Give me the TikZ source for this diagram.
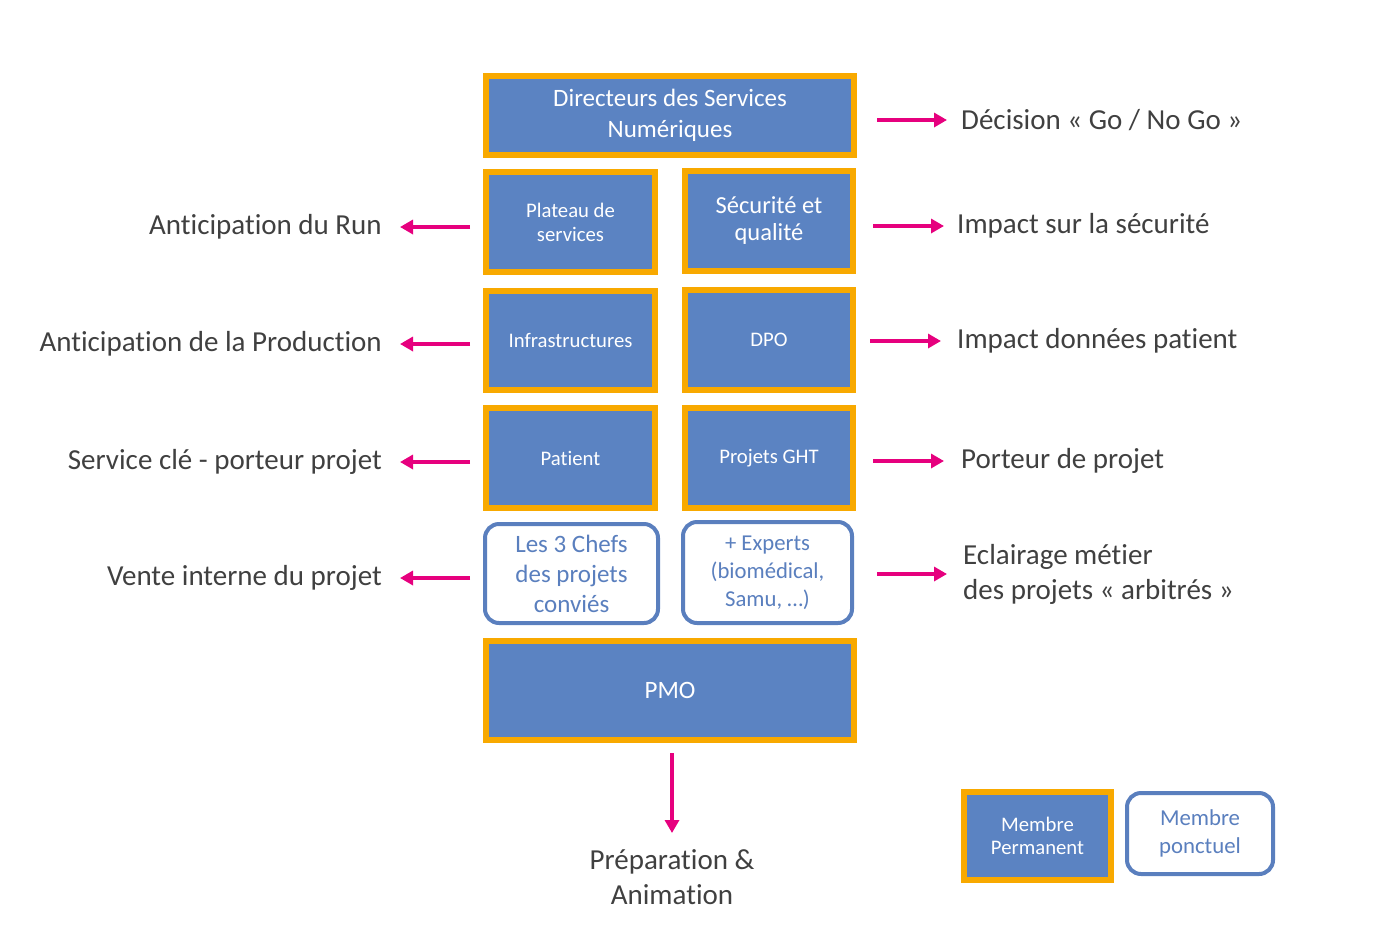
\documentclass[tikz,border=0pt]{standalone}
\usepackage{fontspec}
\setmainfont[Ligatures=NoCommon]{Carlito}
\usetikzlibrary{arrows.meta}
\definecolor{boxblue}{HTML}{5B83C2}
\definecolor{orng}{HTML}{F8A900}
\definecolor{pinkarr}{HTML}{E6007E}
\definecolor{txtgray}{HTML}{404040}
\definecolor{rblue}{HTML}{5A7FBE}
\begin{document}
\begin{tikzpicture}[x=1pt,y=-1pt,
  perm/.style={draw=orng, line width=6pt, fill=boxblue, text=white, align=center, inner sep=0pt},
  ponc/.style={draw=rblue, line width=4pt, fill=white, rounded corners=14pt, text=rblue, align=center, inner sep=0pt},
  lbl/.style={text=txtgray, inner sep=0pt, align=left, font=\fontsize{29}{35}\selectfont},
  lblr/.style={lbl, anchor=east},
  lbll/.style={lbl, anchor=west},
  arr/.style={draw=pinkarr, line width=3.5pt, -{Triangle[length=13pt,width=14pt]}},
  fbig/.style={font=\fontsize{25}{31}\selectfont},
  fmid/.style={font=\fontsize{24.5}{27}\selectfont},
  fsmall/.style={font=\fontsize{20.7}{24}\selectfont}]
\useasboundingbox (0,0) rectangle (1388,940);
% permanent boxes
\node[perm, fbig, minimum width=368, minimum height=79] (dsn) at (670,115.5) {Directeurs des Services\\Numériques};
\node[perm, fsmall, minimum width=169, minimum height=100] (plat) at (570.5,222) {Plateau de\\services};
\node[perm, fmid, minimum width=168, minimum height=100] (secu) at (769,221) {Sécurité et\\qualité};
\node[perm, fsmall, minimum width=169, minimum height=99] (infra) at (570.5,340.5) {Infrastructures};
\node[perm, fsmall, minimum width=168, minimum height=100] (dpo) at (769,340) {DPO};
\node[perm, fsmall, minimum width=169, minimum height=100] (pat) at (570.5,458) {Patient};
\node[perm, fsmall, minimum width=168, minimum height=100] (ght) at (769,458) {Projets GHT};
\node[ponc, font=\fontsize{25}{30}\selectfont, minimum width=173, minimum height=99] (chefs) at (571.5,573.5) {Les 3 Chefs\\des projets\\conviés};
\node[ponc, font=\fontsize{22.7}{28}\selectfont, minimum width=169, minimum height=101] (exp) at (767.5,572.5) {+ Experts\\(biomédical,\\Samu, …)};
\node[perm, fbig, minimum width=368, minimum height=99] (pmo) at (670,690.5) {PMO};
% legend
\node[perm, font=\fontsize{20.7}{23}\selectfont, minimum width=147, minimum height=88] (lperm) at (1037.5,836) {Membre\\Permanent};
\node[ponc, font=\fontsize{22.8}{28}\selectfont, minimum width=146, minimum height=81] (lponc) at (1200,833.5) {Membre\\ponctuel};
% right labels
\node[lbll] (dec) at (961,120) {Décision « Go / No Go »};
\node[lbll] (isec) at (957,226) {Impact sur la sécurité};
\node[lbll] (idon) at (957,341) {Impact données patient};
\node[lbll] (port) at (961,461) {Porteur de projet};
\node[lbll] (ecl) at (963,574) {Eclairage métier\\des projets « arbitrés »};
% left labels
\node[lblr] (run) at (382,227) {Anticipation du Run};
\node[lblr] (prod) at (382,344) {Anticipation de la Production};
\node[lblr] (serv) at (382,462) {Service clé - porteur projet};
\node[lblr] (vente) at (382,578) {Vente interne du projet};
% bottom label
\node[lbl, align=center, anchor=north] (prep) at (672,849) {Préparation \&\\Animation};
% arrows right
\draw[arr, shorten <=20pt, shorten >=14pt] (dsn.east |- dec.west) -- (dec.west);
\draw[arr, shorten <=17pt, shorten >=13pt] (secu.east |- isec.west) -- (isec.west);
\draw[arr, shorten <=14pt, shorten >=16pt] (dpo.east |- idon.west) -- (idon.west);
\draw[arr, shorten <=17pt, shorten >=17pt] (ght.east |- port.west) -- (port.west);
\draw[arr, shorten <=23pt, shorten >=16pt] (exp.east |- ecl.west) -- (ecl.west);
% arrows left
\draw[arr, shorten <=13pt, shorten >=18pt] (plat.west |- run.east) -- (run.east);
\draw[arr, shorten <=13pt, shorten >=18pt] (infra.west |- prod.east) -- (prod.east);
\draw[arr, shorten <=13pt, shorten >=18pt] (pat.west |- serv.east) -- (serv.east);
\draw[arr, shorten <=13pt, shorten >=18pt] (chefs.west |- vente.east) -- (vente.east);
% arrow down
\draw[arr, shorten <=10pt, shorten >=16pt] (pmo.south -| prep.north) -- (prep.north);
\end{tikzpicture}
\end{document}
